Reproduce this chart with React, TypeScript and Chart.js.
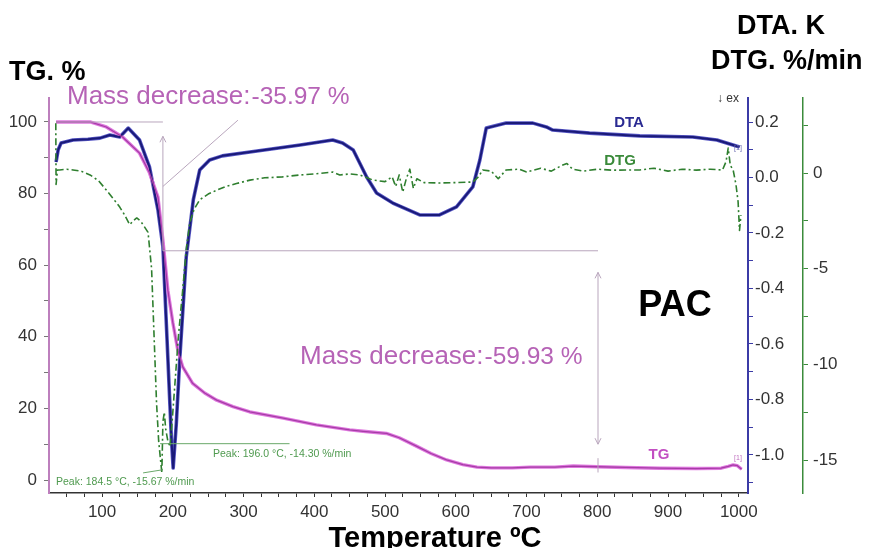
import React, { useEffect, useRef } from "react";
import { Chart, registerables } from "chart.js";

Chart.register(...registerables);

const W = 879;
const H = 548;

// TG curve: temperature (°C) and remaining mass (%)
const tgTemp = [35, 60, 83, 106, 129, 153, 167, 179, 186, 193, 200, 207, 214, 228, 245, 262, 285, 309, 356, 403, 450, 469, 502, 520, 545, 565, 587, 610, 630, 650, 680, 705, 740, 766, 800, 840, 888, 940, 975, 985, 992, 998, 1004];
const tgMass = [100, 100, 100, 98.6, 95.8, 91.3, 85.8, 79, 67, 53, 44, 36.3, 31.6, 27, 24.3, 22.3, 20.5, 19, 17.3, 15.4, 14, 13.6, 13, 11.8, 9.4, 7.4, 5.6, 4.3, 3.6, 3.4, 3.4, 3.6, 3.6, 3.9, 3.7, 3.5, 3.3, 3.2, 3.3, 3.8, 4.2, 4.0, 3.0];

// DTA curve: temperature (°C) and signal (K)
const dtaTemp = [35, 38, 42, 59, 80, 97, 111, 125, 137, 153, 167, 179, 186, 193, 198, 200.5, 205, 210, 219, 229, 238, 252, 270, 309, 380, 426, 440, 455, 474, 488, 511, 549, 577, 601, 624, 634, 643, 671, 709, 728, 737, 789, 860, 935, 969, 1001];
const dtaSignal = [0.056, 0.1, 0.124, 0.135, 0.138, 0.142, 0.153, 0.146, 0.178, 0.135, 0.038, -0.117, -0.25, -0.65, -0.94, -1.047, -0.885, -0.647, -0.286, -0.08, 0.027, 0.063, 0.078, 0.092, 0.117, 0.135, 0.124, 0.099, 0.002, -0.056, -0.092, -0.135, -0.135, -0.106, -0.034, 0.063, 0.178, 0.196, 0.196, 0.182, 0.171, 0.16, 0.15, 0.146, 0.135, 0.11];

// DTG curve: temperature (°C) and mass-loss rate (%/min)
const dtgTemp = [34.6, 35, 37, 40, 50, 59, 70, 83, 95, 106, 115, 125, 132, 139, 144, 149, 154, 158, 165, 170, 174, 177, 180, 184.5, 186, 188, 190, 193, 196, 199, 203, 208, 214, 219, 224, 230, 238, 250, 262, 275, 290, 309, 330, 355, 380, 400, 426, 436, 450, 464, 483, 500, 510, 515, 520, 525, 530, 535, 540, 545, 555, 577, 600, 624, 632, 638, 650, 660, 671, 690, 700, 720, 735, 750, 757, 765, 780, 800, 820, 860, 880, 900, 920, 940, 960, 977, 982, 985, 988, 992, 996, 999, 1001, 1003];
const dtgRate = [2.6, -0.6, 0.16, 0.16, 0.2, 0.16, 0.1, -0.1, -0.4, -0.89, -1.3, -1.78, -2.2, -2.7, -2.5, -2.35, -2.5, -2.7, -3.1, -5, -9, -12, -14, -15.67, -13, -12.5, -13.4, -14.0, -14.3, -13, -11, -8.5, -6.1, -4, -2.6, -1.9, -1.4, -1.1, -0.9, -0.7, -0.55, -0.37, -0.25, -0.2, -0.1, -0.05, 0.05, -0.1, -0.05, -0.1, -0.37, -0.45, -0.2, -0.7, -0.1, -1.0, -0.3, 0.2, -0.8, -0.3, -0.5, -0.52, -0.5, -0.47, -0.2, 0.16, 0.1, -0.3, 0.16, 0.2, 0.05, 0.25, 0.1, 0.4, 0.5, 0.2, 0.1, 0.2, 0.15, 0.16, 0.25, 0.1, 0.2, 0.15, 0.2, 0.16, 0.6, 1.3, 0.4, 0.16, -0.6, -1.5, -3.0, -2.2];

// Axis ticks (labelled ones) and the unlabelled minor marks between them
const tempTicks = [100, 200, 300, 400, 500, 600, 700, 800, 900, 1000];
const tempMinor = [50, 75, 125, 150, 175, 225, 250, 275, 325, 350, 375, 425, 450, 475, 525, 550, 575, 625, 650, 675, 725, 750, 775, 825, 850, 875, 925, 950, 975];
const tgTicks = [0, 20, 40, 60, 80, 100];
const tgMinor = [10, 30, 50, 70, 90];
const dtaTicks = [0.2, 0.0, -0.2, -0.4, -0.6, -0.8, -1.0];
const dtaMinor = [0.1, -0.1, -0.3, -0.5, -0.7, -0.9, -1.1];
const dtgTicks = [0, -5, -10, -15];
const dtgMinor = [2.5, -2.5, -7.5, -12.5];

// Evaluated steps and peaks
const massSteps = [-35.97, -59.93];
const peakTemps = [184.5, 196.0];
const peakRates = [-15.67, -14.3];

const FONT = "'Liberation Sans', Arial, sans-serif";
const tickFont = { family: FONT, size: 17 };

const pts = (xs: number[], ys: number[]) => xs.map((x, i) => ({ x, y: ys[i] }));

const withMinor = (major: number[], minor: number[]) => (axis: any) => {
  axis.ticks = [...major, ...minor].sort((a, b) => a - b).map((v) => ({ value: v }));
};

const fmtPeak = (t: number, r: number) => `Peak: ${t.toFixed(1)} °C, ${r.toFixed(2)} %/min`;

function arrowHead(ctx: CanvasRenderingContext2D, x: number, y: number, dir: number) {
  ctx.beginPath();
  ctx.moveTo(x - 3, y - dir * 6);
  ctx.lineTo(x, y);
  ctx.lineTo(x + 3, y - dir * 6);
  ctx.stroke();
}

const decorations = {
  id: "thermoDecorations",
  afterDatasetsDraw(chart: any) {
    const { ctx, scales } = chart;
    const px = (t: number) => scales.x.getPixelForValue(t);
    const py = (m: number) => scales.yTG.getPixelForValue(m);
    const pg = (g: number) => scales.yDTG.getPixelForValue(g);
    const level1 = 100 + massSteps[0];
    const level2 = level1 + massSteps[1];

    ctx.save();
    // step evaluation guides
    ctx.strokeStyle = "#b9a6bd";
    ctx.lineWidth = 1;
    ctx.beginPath();
    ctx.moveTo(px(35), py(100));
    ctx.lineTo(px(186), py(100));
    ctx.moveTo(px(186), py(level1));
    ctx.lineTo(px(186), py(96));
    ctx.moveTo(px(186), py(82));
    ctx.lineTo(px(292), py(100.5));
    ctx.moveTo(px(186), py(level1));
    ctx.lineTo(px(801), py(level1));
    ctx.moveTo(px(801), py(58));
    ctx.lineTo(px(801), py(10));
    ctx.moveTo(px(801), py(level2 - 2));
    ctx.lineTo(px(801), py(level2 + 2));
    ctx.stroke();
    arrowHead(ctx, px(186), py(96), -1);
    arrowHead(ctx, px(801), py(58), -1);
    arrowHead(ctx, px(801), py(10), 1);

    // peak leaders
    ctx.strokeStyle = "#6aa86a";
    ctx.beginPath();
    ctx.moveTo(px(182), pg(peakRates[1]) - 3);
    ctx.lineTo(px(365), pg(peakRates[1]) - 3);
    ctx.moveTo(px(158), pg(peakRates[0]));
    ctx.lineTo(px(184.5), pg(peakRates[0]) - 3);
    ctx.stroke();

    ctx.textBaseline = "alphabetic";
    ctx.fillStyle = "#4f9a4f";
    ctx.font = `10.5px ${FONT}`;
    ctx.textAlign = "left";
    ctx.fillText(fmtPeak(peakTemps[0], peakRates[0]), 56, 485);
    ctx.fillText(fmtPeak(peakTemps[1], peakRates[1]), 213, 457);

    // mass decrease labels
    const massLabel = (v: number, x: number, y: number) => {
      ctx.fillStyle = "#b663b6";
      ctx.font = `26px ${FONT}`;
      const head = "Mass decrease:";
      ctx.fillText(head, x, y);
      const w = ctx.measureText(head).width;
      ctx.font = `24.5px ${FONT}`;
      ctx.fillText(`${v.toFixed(2)} %`, x + w + 1, y);
    };
    massLabel(massSteps[0], 67, 104);
    massLabel(massSteps[1], 300, 364);

    // curve names
    ctx.font = `bold 15px ${FONT}`;
    ctx.textAlign = "center";
    ctx.fillStyle = "#2a2a92";
    ctx.fillText("DTA", 629, 127);
    ctx.fillStyle = "#3a8a3a";
    ctx.fillText("DTG", 620, 165);
    ctx.fillStyle = "#c24ec2";
    ctx.fillText("TG", 659, 459);

    ctx.font = `7px ${FONT}`;
    ctx.fillStyle = "#6a6ab0";
    ctx.fillText("[1]", 738, 150);
    ctx.fillStyle = "#c070c0";
    ctx.fillText("[1]", 738, 460);

    ctx.font = `bold 36px ${FONT}`;
    ctx.fillStyle = "#000";
    ctx.fillText("PAC", 675, 316);

    ctx.font = `12px ${FONT}`;
    ctx.fillStyle = "#333";
    ctx.textAlign = "left";
    ctx.fillText("↓ ex", 717, 102);

    // axis titles
    ctx.fillStyle = "#000";
    ctx.font = `bold 27px ${FONT}`;
    ctx.fillText("TG. %", 9, 80);
    ctx.fillText("DTA. K", 737, 34);
    ctx.fillText("DTG. %/min", 711, 69);
    ctx.font = `bold 29px ${FONT}`;
    ctx.textAlign = "center";
    ctx.fillText("Temperature ºC", 435, 547);
    ctx.restore();
  },
};

export default function App() {
  const ref = useRef<HTMLCanvasElement>(null);

  useEffect(() => {
    const chart = new Chart(ref.current as HTMLCanvasElement, {
      type: "line",
      data: {
        datasets: [
          // darker cores drawn above their wider halos (lower order = on top)
          { label: "TG", data: pts(tgTemp, tgMass), yAxisID: "yTG", borderColor: "#df78df", borderWidth: 3.4, order: 3 },
          { label: "TG core", data: pts(tgTemp, tgMass), yAxisID: "yTG", borderColor: "#a63ca6", borderWidth: 1.3, order: 2 },
          { label: "DTA", data: pts(dtaTemp, dtaSignal), yAxisID: "yDTA", borderColor: "#5656c4", borderWidth: 3.6, order: 3 },
          { label: "DTA core", data: pts(dtaTemp, dtaSignal), yAxisID: "yDTA", borderColor: "#1a1a78", borderWidth: 2, order: 2 },
          { label: "DTG", data: pts(dtgTemp, dtgRate), yAxisID: "yDTG", borderColor: "#2f7f2f", borderWidth: 1.6, borderDash: [7, 3, 2, 3], order: 1 },
        ],
      },
      options: {
        responsive: false,
        devicePixelRatio: 1,
        animation: false,
        parsing: false as any,
        layout: { padding: { top: 98, left: 0, right: 0, bottom: 0 } },
        elements: { point: { radius: 0 }, line: { tension: 0, borderJoinStyle: "round" } },
        plugins: { legend: { display: false }, tooltip: { enabled: false }, title: { display: false } },
        scales: {
          x: {
            type: "linear",
            min: 25,
            max: 1013,
            afterBuildTicks: withMinor(tempTicks, tempMinor),
            afterFit: (s: any) => { s.height = 55; },
            border: { display: true, color: "#333", width: 1.5 },
            grid: { display: true, drawOnChartArea: false, drawTicks: true, tickLength: 4, color: "#333" },
            ticks: {
              autoSkip: false,
              maxRotation: 0,
              padding: 5,
              color: "#333",
              font: tickFont,
              callback: (v: any) => (tempTicks.includes(v) ? String(v) : ""),
            },
          },
          yTG: {
            type: "linear",
            position: "left",
            min: -3.63,
            max: 106.7,
            afterBuildTicks: withMinor(tgTicks, tgMinor),
            afterFit: (s: any) => { s.width = 49; },
            border: { display: true, color: "#bd7fbd", width: 2 },
            grid: { display: true, drawOnChartArea: false, drawTicks: true, tickLength: 5, color: "#777" },
            ticks: {
              autoSkip: false,
              padding: 7,
              color: "#333",
              font: tickFont,
              callback: (v: any) => (tgTicks.includes(v) ? String(v) : ""),
            },
          },
          yDTA: {
            type: "linear",
            position: "right",
            weight: 0,
            min: -1.137,
            max: 0.2865,
            afterBuildTicks: withMinor(dtaTicks, dtaMinor),
            afterFit: (s: any) => { s.width = 55; },
            border: { display: true, color: "#3b3ba6", width: 2 },
            grid: { display: true, drawOnChartArea: false, drawTicks: true, tickLength: 5, color: "#3b3ba6" },
            ticks: {
              autoSkip: false,
              padding: 2,
              color: "#333",
              font: tickFont,
              callback: (v: any) => (dtaTicks.some((t) => Math.abs(t - v) < 1e-9) ? Number(v).toFixed(1) : ""),
            },
          },
          yDTG: {
            type: "linear",
            position: "right",
            weight: 1,
            min: -16.72,
            max: 3.92,
            afterBuildTicks: withMinor(dtgTicks, dtgMinor),
            afterFit: (s: any) => { s.width = 76; },
            border: { display: true, color: "#3b8b3b", width: 1.5 },
            grid: { display: true, drawOnChartArea: false, drawTicks: true, tickLength: 5, color: "#3b8b3b" },
            ticks: {
              autoSkip: false,
              padding: 5,
              color: "#333",
              font: tickFont,
              callback: (v: any) => (dtgTicks.includes(v) ? String(v) : ""),
            },
          },
        },
      },
      plugins: [decorations],
    });
    return () => chart.destroy();
  }, []);

  return (
    <div style={{ position: "absolute", left: 0, top: 0, width: W, height: H, background: "#fff" }}>
      <canvas ref={ref} width={W} height={H} style={{ display: "block", width: W, height: H }} />
    </div>
  );
}
